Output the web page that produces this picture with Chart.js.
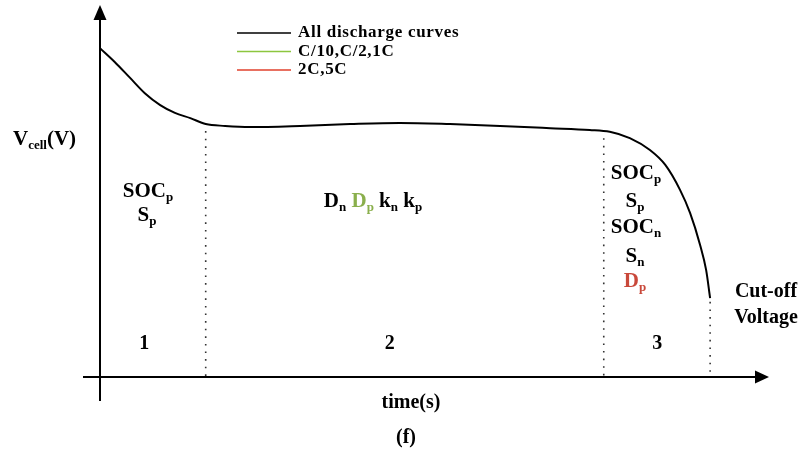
<!DOCTYPE html>
<html>
<head>
<meta charset="utf-8">
<script src="https://cdn.jsdelivr.net/npm/chart.js@4"></script>
<style>
  html, body { margin: 0; padding: 0; background: #fff; }
  #wrap { width: 803px; height: 454px; }
</style>
</head>
<body>
<div id="wrap"><canvas id="dischargeChart" width="803" height="454"></canvas></div>
<script>
// schematic discharge curve (arbitrary units)
const times = [0, 2.2, 4.5, 6.7, 9.0, 11.2, 13.5, 15.8, 18.7, 22.4, 29.9, 37.4, 44.8, 52.3, 59.8, 67.3, 73.2, 76.2, 79.2, 82.2, 84.5, 86.7, 88.2, 89.7, 90.6, 91.2];
const vcell = [88.4, 84.7, 80.4, 76.3, 73.1, 71.0, 69.6, 68.0, 67.5, 67.2, 67.5, 68.0, 68.3, 68.0, 67.5, 66.9, 66.4, 65.9, 64.2, 61.0, 57.0, 50.3, 44.1, 35.5, 28.8, 21.2];

// region boundaries (dotted lines) and where they start
const dividerX = [15.8, 75.3, 91.2];
const dividerTop = [66.1, 64.2, 20.2];

const regionNames = ['1', '2', '3'];
const regionX = [6.6, 43.3, 83.3];

const legendLabels = ['All discharge curves', 'C/10,C/2,1C', '2C,5C'];
const legendColors = ['#000000', '#8cc63f', '#e0402c'];

const FONT = '"Liberation Serif", "Times New Roman", serif';
const GREEN_TXT = '#8aaf4c';
const RED_TXT = '#c9483a';

const datasets = [{
  label: legendLabels[0],
  data: times.map((t, i) => ({ x: t, y: vcell[i] })),
  borderColor: '#000',
  borderWidth: 2,
  pointRadius: 0,
  cubicInterpolationMode: 'monotone',
  fill: false
}];
dividerX.forEach((x, i) => {
  datasets.push({
    label: 'divider' + (i + 1),
    data: [{ x: x, y: dividerTop[i] }, { x: x, y: 0 }],
    borderColor: '#333',
    borderWidth: 1.6,
    borderDash: [1.6, 6],
    pointRadius: 0,
    fill: false
  });
});

// text with subscripts: parts = [[text, sub, color], ...]
function drawRich(ctx, parts, x, y, size, align) {
  const subSize = Math.round(size * 0.62);
  let w = 0;
  parts.forEach(p => {
    ctx.font = 'bold ' + size + 'px ' + FONT;
    w += ctx.measureText(p[0]).width;
    if (p[1]) { ctx.font = 'bold ' + subSize + 'px ' + FONT; w += ctx.measureText(p[1]).width; }
  });
  let cx = align === 'center' ? x - w / 2 : x;
  ctx.textAlign = 'left';
  ctx.textBaseline = 'alphabetic';
  parts.forEach(p => {
    ctx.fillStyle = p[2] || '#000';
    ctx.font = 'bold ' + size + 'px ' + FONT;
    ctx.fillText(p[0], cx, y);
    cx += ctx.measureText(p[0]).width;
    if (p[1]) {
      ctx.font = 'bold ' + subSize + 'px ' + FONT;
      ctx.fillText(p[1], cx, y + 4);
      cx += ctx.measureText(p[1]).width;
    }
  });
}

const schematic = {
  id: 'schematic',
  afterDraw(chart) {
    const ctx = chart.ctx;
    const area = chart.chartArea;
    const xs = chart.scales.x, ys = chart.scales.y;
    const x0 = xs.getPixelForValue(0), y0 = ys.getPixelForValue(0);
    ctx.save();

    // axes with arrow heads
    ctx.strokeStyle = '#000';
    ctx.fillStyle = '#000';
    ctx.lineWidth = 2;
    ctx.beginPath();
    ctx.moveTo(x0, y0 + 24); ctx.lineTo(x0, area.top + 14);
    ctx.moveTo(x0 - 17, y0); ctx.lineTo(area.right - 12, y0);
    ctx.stroke();
    ctx.beginPath();
    ctx.moveTo(x0, area.top); ctx.lineTo(x0 - 6.5, area.top + 15); ctx.lineTo(x0 + 6.5, area.top + 15);
    ctx.closePath(); ctx.fill();
    ctx.beginPath();
    ctx.moveTo(area.right, y0); ctx.lineTo(area.right - 14, y0 - 6.5); ctx.lineTo(area.right - 14, y0 + 6.5);
    ctx.closePath(); ctx.fill();

    // legend
    legendLabels.forEach((lab, i) => {
      const ly = 33 + i * 18.5;
      ctx.strokeStyle = legendColors[i];
      ctx.lineWidth = 1.5;
      ctx.beginPath(); ctx.moveTo(237, ly); ctx.lineTo(291, ly); ctx.stroke();
      ctx.fillStyle = '#000';
      ctx.font = 'bold 17px ' + FONT;
      ctx.letterSpacing = '0.7px';
      ctx.textAlign = 'left';
      ctx.textBaseline = 'alphabetic';
      ctx.fillText(lab, 298, ly + 4);
      ctx.letterSpacing = '0px';
    });

    // axis titles
    drawRich(ctx, [['V', 'cell'], ['(V)']], 13, 145, 21, 'left');
    drawRich(ctx, [['time(s)']], 411, 408, 20, 'center');
    drawRich(ctx, [['(f)']], 406, 443, 20, 'center');

    // region 1
    drawRich(ctx, [['SOC', 'p']], 148, 197, 21, 'center');
    drawRich(ctx, [['S', 'p']], 147, 221, 21, 'center');
    // region 2
    drawRich(ctx, [['D', 'n'], [' '], ['D', 'p', GREEN_TXT], [' '], ['k', 'n'], [' '], ['k', 'p']], 373, 207, 21, 'center');
    // region 3
    drawRich(ctx, [['SOC', 'p']], 636, 179, 21, 'center');
    drawRich(ctx, [['S', 'p']], 635, 207, 21, 'center');
    drawRich(ctx, [['SOC', 'n']], 636, 233, 21, 'center');
    drawRich(ctx, [['S', 'n']], 635, 262, 21, 'center');
    drawRich(ctx, [['D', 'p', RED_TXT]], 635, 287, 21, 'center');

    drawRich(ctx, [['Cut-off']], 766, 297, 20, 'center');
    drawRich(ctx, [['Voltage']], 766, 323, 20, 'center');

    regionNames.forEach((n, i) => {
      drawRich(ctx, [[n]], xs.getPixelForValue(regionX[i]), 349, 20, 'center');
    });
    ctx.restore();
  }
};

new Chart(document.getElementById('dischargeChart').getContext('2d'), {
  type: 'line',
  data: { datasets: datasets },
  options: {
    responsive: false,
    animation: false,
    layout: { padding: { left: 100, right: 34, top: 5, bottom: 77 } },
    plugins: { legend: { display: false }, tooltip: { enabled: false } },
    scales: {
      x: { type: 'linear', min: 0, max: 100, display: false },
      y: { min: 0, max: 100, display: false }
    }
  },
  plugins: [schematic]
});
</script>
</body>
</html>
